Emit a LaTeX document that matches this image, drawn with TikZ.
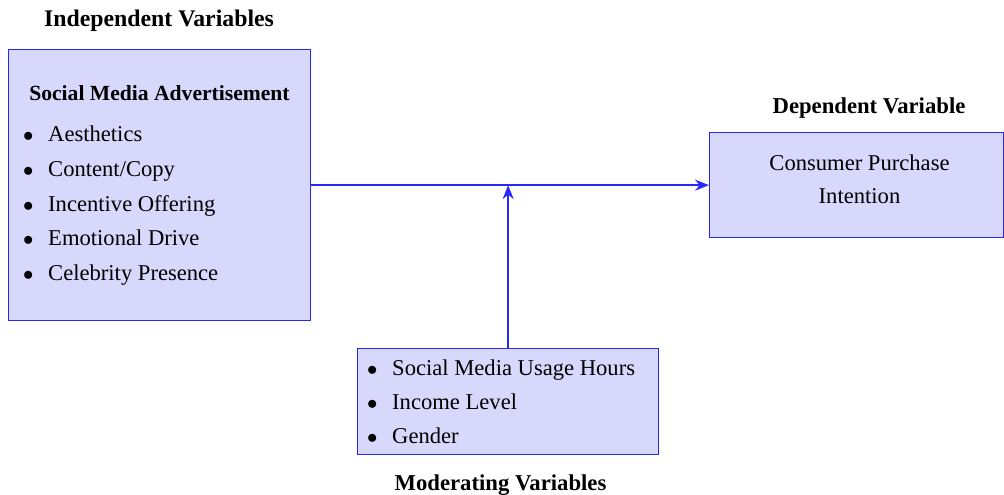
\documentclass[tikz,border=0pt]{standalone}
\usepackage{fontspec}
\setmainfont{Liberation Serif}
\usetikzlibrary{arrows.meta, positioning}
\definecolor{boxfill}{RGB}{216,216,252}
\definecolor{boxline}{RGB}{40,40,250}
\tikzset{
  varbox/.style={rectangle, draw=boxline, fill=boxfill, line width=1.3pt,
    anchor=north west, inner sep=0pt},
  heading/.style={anchor=base, inner sep=0pt, font=\fontsize{22.7}{26}\selectfont\bfseries},
  plain/.style={anchor=base, inner sep=0pt, font=\fontsize{22.6}{26}\selectfont},
  item/.style={anchor=base west, inner sep=0pt, font=\fontsize{22.6}{26}\selectfont},
  arrow/.style={-{Stealth[length=14pt,width=11pt]}, line width=1.6pt, color=boxline}
}
\newcommand{\bul}[1]{\makebox[25pt][l]{$\bullet$}#1}

\begin{document}
\begin{tikzpicture}[x=1pt, y=-1pt]
    \useasboundingbox (0,0) rectangle (1004,495);

    % independent variables
    \node[heading, font=\fontsize{23.8}{26}\selectfont\bfseries] (indhead) at (159,27) {Independent Variables};
    \node[varbox, minimum width=302pt, minimum height=271pt] (sma) at (8,49) {};
    \node[heading, font=\fontsize{21.6}{26}\selectfont\bfseries] (smahead) at (159.5,100) {Social Media Advertisement};
    \foreach \txt [count=\i] in {Aesthetics, Content/Copy, Incentive Offering,
        Emotional Drive, Celebrity Presence}
      \node[item] (smaitem\i) at (23,107+34.7*\i) {\bul{\txt}};

    % dependent variable
    \node[heading] (dephead) at (869,113) {Dependent Variable};
    \node[varbox, minimum width=294pt, minimum height=105pt] (cpi) at (709,132) {};
    \node[plain] (cpitop) at (859.5,170) {Consumer Purchase};
    \node[plain] (cpibot) at (859.5,203) {Intention};

    % moderating variables
    \node[varbox, minimum width=301pt, minimum height=106pt] (mod) at (357,348) {};
    \foreach \txt [count=\i] in {Social Media Usage Hours, Income Level, Gender}
      \node[item] (moditem\i) at (367,341+34*\i) {\bul{\txt}};
    \node[heading] (modhead) at (500.5,490) {Moderating Variables};

    % paths
    \draw[arrow] (sma.east) -- (cpi.west);
    \draw[arrow] (mod.north) -- (mod.north |- sma.east);
\end{tikzpicture}
\end{document}
